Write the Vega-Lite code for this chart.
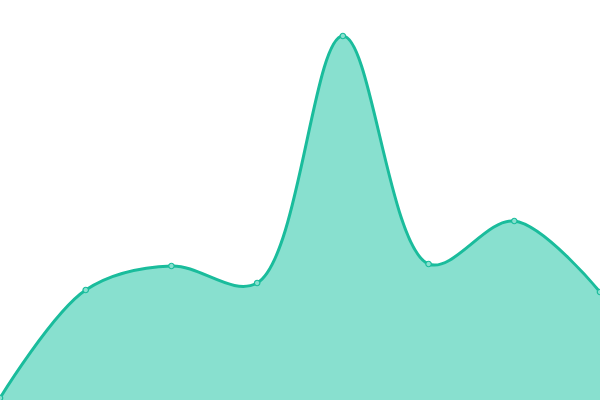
{
  "$schema": "https://vega.github.io/schema/vega-lite/v6.json",
  "width": 600,
  "height": 400,
  "autosize": {"type": "none"},
  "padding": 0,
  "config": {"view": {"stroke": null}},
  "data": {
    "values": [
      {"i": 0, "v": 2},
      {"i": 1, "v": 110},
      {"i": 2, "v": 134},
      {"i": 3, "v": 117},
      {"i": 4, "v": 364},
      {"i": 5, "v": 136},
      {"i": 6, "v": 179},
      {"i": 7, "v": 108}
    ]
  },
  "encoding": {
    "x": {"field": "i", "type": "quantitative", "axis": null, "scale": {"domain": [0, 7], "nice": false, "zero": false}},
    "y": {"field": "v", "type": "quantitative", "axis": null, "scale": {"domain": [0, 400], "nice": false}}
  },
  "layer": [
    {
      "mark": {"type": "area", "interpolate": "catmull-rom", "color": "#88e0cf", "opacity": 1, "line": {"color": "#1abc9c", "strokeWidth": 3}}
    },
    {
      "mark": {"type": "point", "shape": "circle", "size": 30, "filled": true, "fill": "#88e0cf", "stroke": "#1abc9c", "strokeWidth": 1.2, "opacity": 1}
    }
  ]
}
